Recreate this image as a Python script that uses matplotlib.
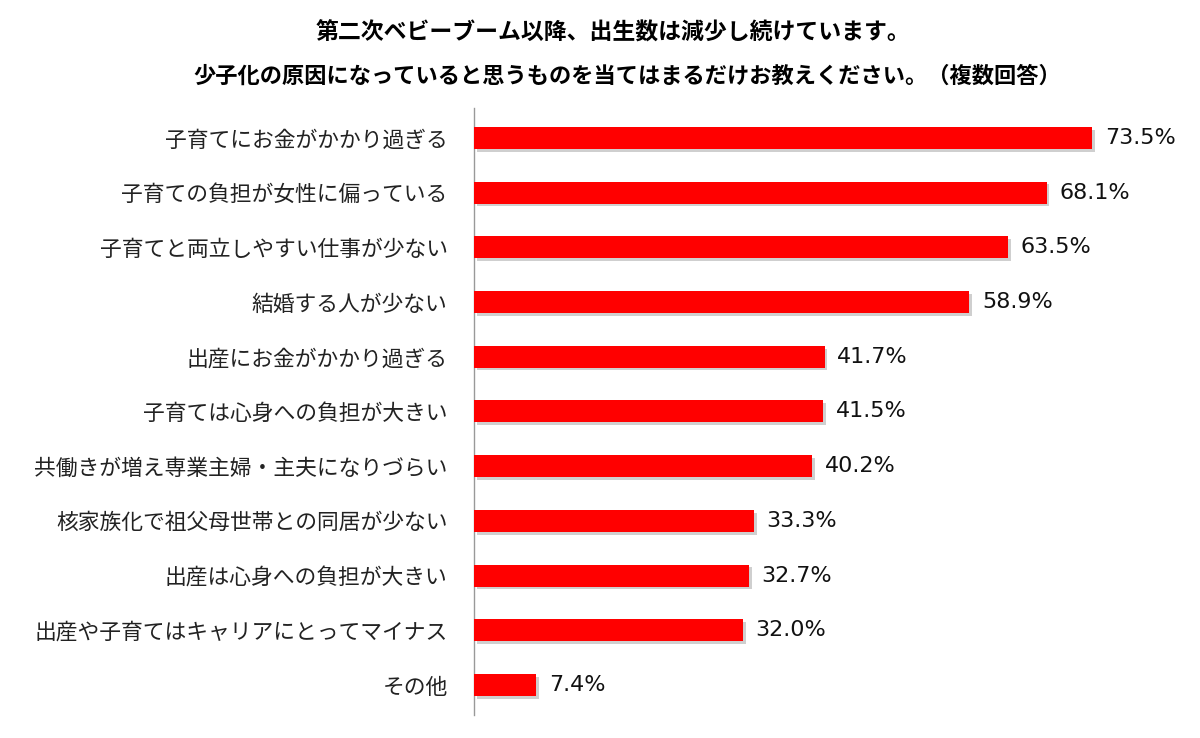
import matplotlib
matplotlib.use("Agg")
import matplotlib.pyplot as plt
import matplotlib.patheffects as pe

plt.rcParams['font.family'] = ['Noto Sans CJK JP', 'DejaVu Sans']

categories = ['子育てにお金がかかり過ぎる', '子育ての負担が女性に偏っている',
              '子育てと両立しやすい仕事が少ない', '結婚する人が少ない',
              '出産にお金がかかり過ぎる', '子育ては心身への負担が大きい',
              '共働きが増え専業主婦・主夫になりづらい', '核家族化で祖父母世帯との同居が少ない',
              '出産は心身への負担が大きい', '出産や子育てはキャリアにとってマイナス',
              'その他']
values = [73.5, 68.1, 63.5, 58.9, 41.7, 41.5, 40.2, 33.3, 32.7, 32.0, 7.4]

title1 = '第二次ベビーブーム以降、出生数は減少し続けています。'
title2 = '少子化の原因になっていると思うものを当てはまるだけお教えください。（複数回答）'

fig = plt.figure(figsize=(12, 7.38), dpi=100)
ax = fig.add_axes([0.395, 0.031, 0.555, 0.823])

ypos = list(range(len(categories)))
bars = ax.barh(ypos, values, height=0.4, color='#ff0000', zorder=3)
for b in bars:
    b.set_path_effects([pe.SimplePatchShadow(offset=(2, -2), shadow_rgbFace='#888888', alpha=0.4),
                        pe.Normal()])

for y, v in zip(ypos, values):
    ax.text(v + 1.5, y, '{:.1f}%'.format(v), va='center', ha='left',
            fontsize=16, family='DejaVu Sans', color='#111111')

ax.set_ylim(len(categories) - 0.45, -0.55)
ax.set_xlim(0, 79.2)
ax.set_yticks(ypos)
ax.set_yticklabels(categories, fontsize=15.7, color='#222222')
ax.tick_params(axis='y', length=0, pad=19)
ax.set_xticks([])
for s in ['top', 'right', 'bottom']:
    ax.spines[s].set_visible(False)
ax.spines['left'].set_color('#999999')
ax.spines['left'].set_linewidth(1)

fig.text(0.511, 0.955, title1, ha='center', va='center', fontsize=16.5, fontweight='bold')
fig.text(0.523, 0.897, title2, ha='center', va='center', fontsize=16, fontweight='bold')

fig.savefig('out.png', dpi=100)
